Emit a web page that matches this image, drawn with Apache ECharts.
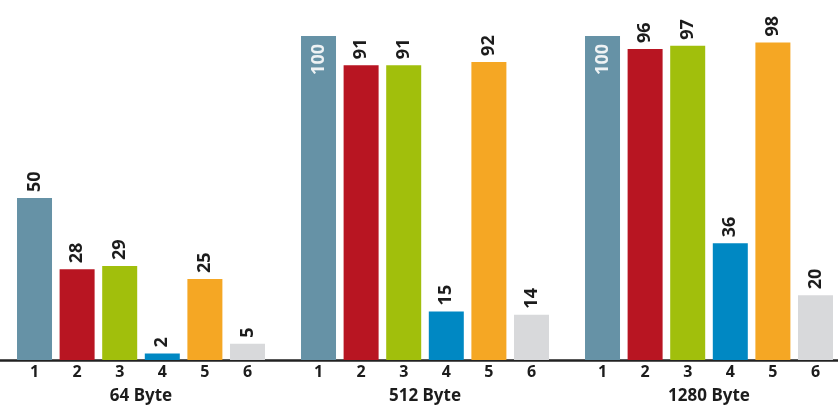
<!DOCTYPE html>
<html>
<head>
<meta charset="utf-8">
<script src="https://cdn.jsdelivr.net/npm/echarts@6/dist/echarts.min.js"></script>
<style>
html,body{margin:0;padding:0;background:#fff;overflow:hidden;}
#chart{width:838px;height:408px;}
</style>
</head>
<body>
<div id="chart"></div>
<script>
var categories = ['64 Byte', '512 Byte', '1280 Byte'];
var barLabels = ['1', '2', '3', '4', '5', '6'];
var values1 = [50, 100, 100];
var values2 = [28, 91, 96];
var values3 = [29, 91, 97];
var values4 = [2, 15, 36];
var values5 = [25, 92, 98];
var values6 = [5, 14, 20];
var colors = ['#6692a6', '#b81522', '#a1bf0c', '#0088c3', '#f5a724', '#d8d9db'];

var allValues = [values1, values2, values3, values4, values5, values6];
var FONT = 'Noto Sans';
var TEXT = '#1c1c1c';

var series = [];
allValues.forEach(function (vals, i) {
  series.push({
    type: 'bar',
    stack: 's' + i,
    barWidth: 35,
    barGap: '21.7%',
    silent: true,
    data: vals.map(function () { return 0; }),
    itemStyle: { color: colors[i] },
    label: {
      show: true,
      position: 'bottom',
      distance: 4,
      formatter: barLabels[i],
      fontFamily: FONT,
      fontWeight: 'bold',
      fontSize: 16,
      color: TEXT
    }
  });
  series.push({
    type: 'bar',
    stack: 's' + i,
    barWidth: 35,
    barGap: '21.7%',
    data: vals.map(function (v) {
      if (v >= 100) {
        return {
          value: v,
          label: {
            position: 'insideTop',
            distance: 8,
            align: 'right',
            verticalAlign: 'middle',
            color: '#eef2f4'
          }
        };
      }
      return v;
    }),
    itemStyle: { color: colors[i] },
    label: {
      show: true,
      position: 'top',
      distance: 6,
      rotate: 90,
      align: 'left',
      verticalAlign: 'middle',
      fontFamily: FONT,
      fontWeight: 'bold',
      fontSize: 18,
      color: TEXT
    }
  });
});

var chart = echarts.init(document.getElementById('chart'), null, { renderer: 'canvas' });
chart.setOption({
  animation: false,
  backgroundColor: '#ffffff',
  grid: { left: -1, width: 852, top: 36, bottom: 48, containLabel: false, outerBoundsMode: 'none' },
  xAxis: {
    type: 'category',
    data: categories,
    axisTick: { show: false },
    axisLine: { show: true, lineStyle: { color: '#222222', width: 2.5 } },
    axisLabel: {
      margin: 28,
      fontFamily: FONT,
      fontWeight: 'bold',
      fontSize: 17,
      color: TEXT
    },
    splitLine: { show: false }
  },
  yAxis: {
    type: 'value',
    min: 0,
    max: 100,
    show: false
  },
  series: series
});
</script>
</body>
</html>
